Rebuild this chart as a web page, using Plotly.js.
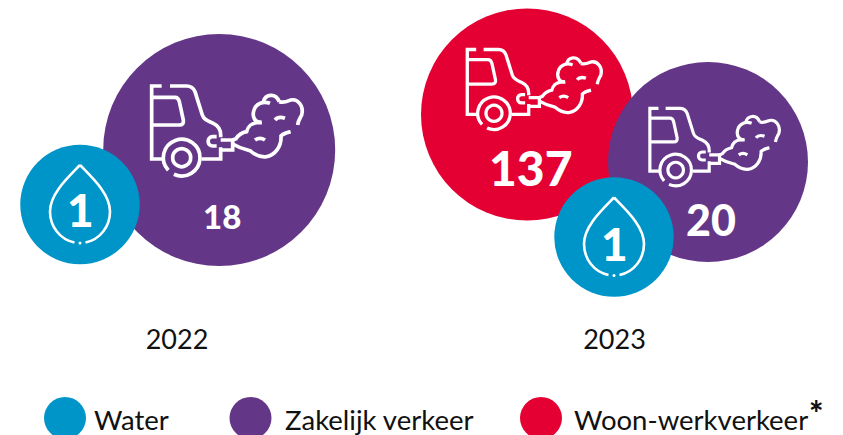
<!DOCTYPE html>
<html>
<head>
<meta charset="utf-8">
<script src="https://cdn.plot.ly/plotly-3.0.1.min.js"></script>
<style>html,body{margin:0;padding:0;background:#fff;overflow:hidden}#chart{width:843px;height:435px}</style>
</head>
<body>
<div id="chart"></div>
<script>
// ---- data ----
const years = ['2022', '2023'];
const seriesNames = ['Woon-werkverkeer', 'Zakelijk verkeer', 'Water'];
const woonWerk = [null, 137];
const zakelijk = [18, 20];
const water = [1, 1];

// ---- layout of the infographic (reference pixels) ----
const yearX = [177, 614.5];
const colours = {'Woon-werkverkeer': '#e40033', 'Zakelijk verkeer': '#643688', 'Water': '#0095c8'};
const bubbles = {
  'Woon-werkverkeer': {x: [null, 527], y: [null, 114.5], d: [null, 212]},
  'Zakelijk verkeer': {x: [219.2, 708], y: [150, 162], d: [232, 200]},
  'Water': {x: [80, 614], y: [204.5, 237], d: [119.5, 119.5]}
};
const labelPos = {
  'Woon-werkverkeer': {x: [null, 530.5], y: [null, 167], s: [null, 48]},
  'Zakelijk verkeer': {x: [222, 710.5], y: [216, 219.5], s: [33, 43]},
  'Water': {x: [80, 614], y: [209.5, 243], s: [46, 46]}
};
const truckPos = [
  {x: 151, y: 84, s: 1},
  {x: 466.7, y: 47.7, s: 0.89},
  {x: 649.3, y: 106.7, s: 0.86}
];
const legendItems = [
  {name: 'Water', cx: 65, tx: 94},
  {name: 'Zakelijk verkeer', cx: 250.5, tx: 285},
  {name: 'Woon-werkverkeer', cx: 541, tx: 573.5}
];
const legendY = 418, legendD = 42;

// icon geometry, in an enlarged local unit with origin at cab top-left
function arc(cx, cy, r, a0, a1) {
  const n = Math.ceil(Math.abs(a1 - a0) / 60), rad = Math.PI / 180;
  let out = '';
  for (let i = 0; i < n; i++) {
    const s = (a0 + (a1 - a0) * i / n) * rad, e = (a0 + (a1 - a0) * (i + 1) / n) * rad;
    const k = 4 / 3 * Math.tan((e - s) / 4);
    if (i === 0) out += 'M' + (cx + r * Math.cos(s)) + ' ' + (cy + r * Math.sin(s));
    out += 'C' + (cx + r * (Math.cos(s) - k * Math.sin(s))) + ' ' + (cy + r * (Math.sin(s) + k * Math.cos(s))) +
      ' ' + (cx + r * (Math.cos(e) + k * Math.sin(e))) + ' ' + (cy + r * (Math.sin(e) - k * Math.cos(e))) +
      ' ' + (cx + r * Math.cos(e)) + ' ' + (cy + r * Math.sin(e));
  }
  return out;
}
const truckPaths = [
  'M485 78 L455 78 L455 297 L490 297',
  'M510 78 L560 78 Q578 78 585 95 L607 165 C612 180 625 183 640 190 C655 197 662 210 662 225 L662 232',
  'M650 230 L638 230 C620 230 620 258 638 258 L650 258',
  'M662 262 L662 297 L605 297',
  'M455 112 L525 112 Q535 112 538 125 L550 180 Q552 195 538 195 L455 195',
  arc(545, 293, 55, 137, 475),
  arc(545, 293, 27, 0, 360) + 'Z',
  'M662 240 L698 240 L698 270 L662 270',
  'M698 240 L708 236 C715 225 725 218 740 215 C745 195 755 190 770 188 L785 187',
  'M785 187 C765 190 755 170 762 150 C768 130 790 122 810 130',
  'M790 125 C795 105 825 95 838 125',
  'M838 125 C850 130 860 125 872 120 C895 115 912 140 905 165 C900 175 895 180 893 195',
  'M872 215 C860 218 850 220 843 228 C845 260 825 285 800 290 C780 293 765 285 750 272 C735 268 720 265 698 252',
  'M825 180 Q835 168 855 175',
  'M765 240 Q780 230 795 240'
];
const dropPaths = [
  'M0 -39.5 C12 -27 30 -11 30 7 C30 22 20 35 5.5 38',
  'M0 -39.5 C-12 -27 -30 -11 -30 7 C-30 22 -20 35 -5.5 38'
];

function place(path, ox, oy, s, base) {
  // scale a local path to chart coordinates
  return path.replace(/-?\d+(\.\d+)?(e-?\d+)?\s+-?\d+(\.\d+)?(e-?\d+)?/g, m => {
    const p = m.trim().split(/\s+/).map(Number);
    return (ox + (p[0] - base.x) * s / base.k).toFixed(2) + ' ' + (oy + (p[1] - base.y) * s / base.k).toFixed(2);
  });
}

const shapes = [];
truckPos.forEach(t => {
  truckPaths.forEach(p => shapes.push({
    type: 'path', layer: 'above', xref: 'x', yref: 'y',
    path: place(p, t.x, t.y, t.s, {x: 453, y: 72, k: 3}),
    line: {color: '#ffffff', width: 3.7 * t.s}, fillcolor: 'rgba(0,0,0,0)'
  }));
});
bubbles['Water'].x.forEach((cx, i) => {
  const cy = bubbles['Water'].y[i];
  dropPaths.forEach(p => shapes.push({
    type: 'path', layer: 'above', xref: 'x', yref: 'y',
    path: place(p, cx, cy, 1, {x: 0, y: 0, k: 1}),
    line: {color: '#ffffff', width: 2.6}, fillcolor: 'rgba(0,0,0,0)'
  }));
  shapes.push({
    type: 'circle', layer: 'above', xref: 'x', yref: 'y',
    x0: cx - 1.5, x1: cx + 1.5, y0: cy + 37, y1: cy + 40,
    fillcolor: '#ffffff', line: {width: 0}
  });
});

const traces = seriesNames.map(n => ({
  type: 'scatter', mode: 'markers', name: n, hoverinfo: 'skip', showlegend: false, cliponaxis: false,
  x: bubbles[n].x, y: bubbles[n].y,
  marker: {size: bubbles[n].d, sizemode: 'diameter', color: colours[n], line: {width: 0}, opacity: 1}
}));
traces.push({
  type: 'scatter', mode: 'markers', hoverinfo: 'skip', showlegend: false, cliponaxis: false,
  x: legendItems.map(l => l.cx), y: legendItems.map(() => legendY),
  marker: {size: legendD, color: legendItems.map(l => colours[l.name]), line: {width: 0}}
});

const valueBySeries = {'Woon-werkverkeer': woonWerk, 'Zakelijk verkeer': zakelijk, 'Water': water};
const annotations = [];
seriesNames.forEach(n => valueBySeries[n].forEach((v, i) => {
  if (v === null) return;
  annotations.push({
    x: labelPos[n].x[i], y: labelPos[n].y[i], xref: 'x', yref: 'y', text: String(v), showarrow: false,
    xanchor: 'center', yanchor: 'middle',
    font: {family: 'Lato', size: labelPos[n].s[i], color: '#ffffff', weight: 900}
  });
}));
legendItems.forEach(l => annotations.push({
  x: l.tx, y: 419, xref: 'x', yref: 'y', text: l.name, showarrow: false, xanchor: 'left', yanchor: 'middle',
  xshift: -2,
  font: {family: 'Lato', size: 27.5, color: '#111111'}
}));
annotations.push({
  x: 816, y: 412.5, xref: 'x', yref: 'y', text: '*', showarrow: false, xanchor: 'center', yanchor: 'middle',
  font: {family: 'Lato', size: 34, color: '#111111', weight: 900}
});

Plotly.newPlot('chart', traces, {
  width: 843, height: 435,
  margin: {l: 0, r: 0, t: 0, b: 0},
  paper_bgcolor: '#ffffff', plot_bgcolor: '#ffffff',
  showlegend: false,
  shapes, annotations,
  xaxis: {
    range: [0, 843], anchor: 'free', position: (435 - 321) / 435, side: 'bottom',
    tickmode: 'array', tickvals: yearX, ticktext: years, ticks: '', ticklabelstandoff: 0,
    showgrid: false, zeroline: false, showline: false, fixedrange: true,
    tickfont: {family: 'Lato', size: 27, color: '#111111'}
  },
  yaxis: {
    range: [435, 0], visible: false, showgrid: false, zeroline: false, fixedrange: true
  }
}, {displayModeBar: false, staticPlot: true});
</script>
</body>
</html>
